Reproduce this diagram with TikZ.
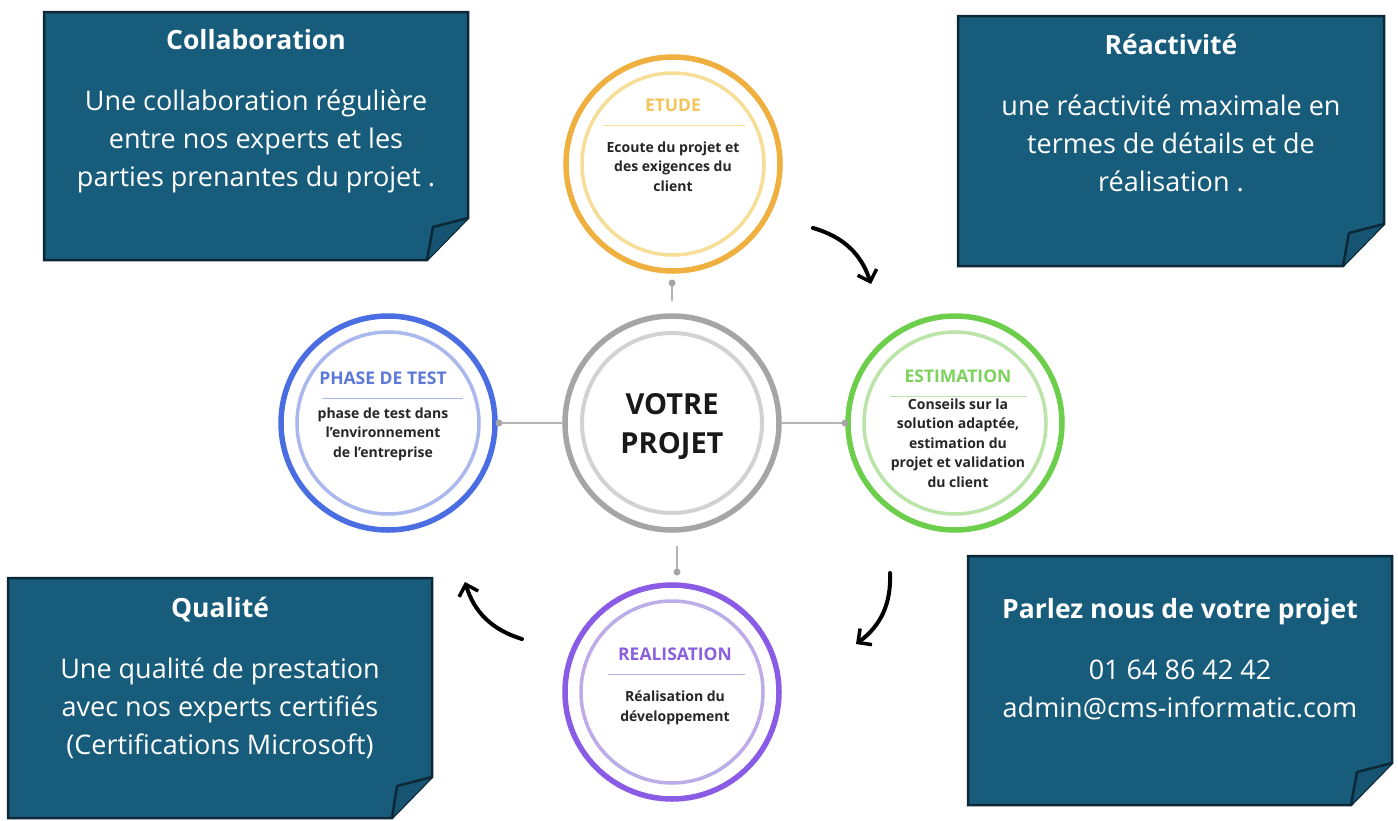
\documentclass[tikz,border=0pt]{standalone}
\usepackage{fontspec}
\setmainfont{Open Sans}
\newfontfamily\osans{Open Sans}
\usetikzlibrary{arrows.meta}
\definecolor{boxfill}{RGB}{24,92,124}
\definecolor{boxflap}{RGB}{22,84,114}
\definecolor{boxline}{RGB}{12,40,54}
\definecolor{etudeA}{RGB}{240,176,64}
\definecolor{etudeB}{RGB}{246,222,150}
\definecolor{etudeT}{RGB}{242,196,90}
\definecolor{estA}{RGB}{108,206,74}
\definecolor{estB}{RGB}{186,228,168}
\definecolor{estT}{RGB}{125,210,95}
\definecolor{testA}{RGB}{74,110,226}
\definecolor{testB}{RGB}{170,184,238}
\definecolor{testT}{RGB}{92,120,216}
\definecolor{realA}{RGB}{138,92,230}
\definecolor{realB}{RGB}{188,172,232}
\definecolor{realT}{RGB}{138,96,224}
\definecolor{midA}{RGB}{165,165,165}
\definecolor{midB}{RGB}{210,210,210}
\definecolor{conn}{RGB}{180,180,180}
\tikzset{
  notebox/.style={draw=boxline, line width=2.5pt, fill=boxfill, line join=miter},
  noteflap/.style={draw=boxline, line width=2.5pt, fill=boxflap, line join=round},
  boxtitle/.style={anchor=base, text=white, inner sep=0pt, font=\fontsize{26.5}{30}\selectfont\bfseries},
  boxbody/.style={anchor=base, text=white, inner sep=0pt, align=center, font=\fontsize{27}{38}\selectfont},
  ring/.style={circle, minimum size=214pt, inner sep=0pt, line width=5.5pt, fill=white},
  ctitle/.style={anchor=base, inner sep=0pt, font=\osans\fontsize{17.5}{20}\selectfont\bfseries},
  cbody/.style={anchor=base, inner sep=0pt, align=center, text=black!85, font=\osans\fontsize{14}{19.5}\selectfont\bfseries},
  connline/.style={draw=conn, line width=2pt},
  cdot/.style={circle, fill=midA, inner sep=0pt, minimum size=7pt},
  flow/.style={line width=4pt, line cap=round, -{Straight Barb[length=10pt,width=20pt,line width=3.5pt]}}
}
\begin{document}
\begin{tikzpicture}[x=1pt,y=-1pt]
\path[use as bounding box, fill=white] (0,0) rectangle (1398,820);

% ---------- note boxes ----------
\draw[notebox] (44,12) -- (468,12) -- (468,218) -- (427,260) -- (44,260) -- cycle;
\draw[noteflap] (468,218) -- (433,227) -- (427,260);
\draw[notebox] (958,16) -- (1384,16) -- (1384,224) -- (1343,266) -- (958,266) -- cycle;
\draw[noteflap] (1384,224) -- (1349,233) -- (1343,266);
\draw[notebox] (8,578) -- (432,578) -- (432,777) -- (392,818) -- (8,818) -- cycle;
\draw[noteflap] (432,777) -- (397,786) -- (392,818);
\draw[notebox] (968,556) -- (1392,556) -- (1392,763) -- (1351,805) -- (968,805) -- cycle;
\draw[noteflap] (1392,763) -- (1357,772) -- (1351,805);

% multi-line nodes: base anchor = baseline of last line
\node[boxtitle] (t1) at (256,49) {Collaboration};
\node[boxbody] (b1) at (256,186) {Une collaboration régulière\\entre nos experts et les\\parties prenantes du projet .};
\node[boxtitle] (t2) at (1171,54) {Réactivité};
\node[boxbody] (b2) at (1171,191) {une réactivité maximale en\\termes de détails et de\\réalisation .};
\node[boxtitle] (t3) at (220,617) {Qualité};
\node[boxbody] (b3) at (220,754) {Une qualité de prestation\\avec nos experts certifiés\\(Certifications Microsoft)};
\node[boxtitle] (t4) at (1180,618) {Parlez nous de votre projet};
\node[boxbody] (b4) at (1180,717) {01 64 86 42 42\\admin@cms-informatic.com};

% ---------- circles ----------
\node[ring, draw=midA] (mid) at (672,423) {};
\draw[midB, line width=4pt] (mid.center) circle[radius=90];
\node[ring, draw=etudeA] (etude) at (673,164) {};
\draw[etudeB, line width=3.5pt] (etude.center) circle[radius=91];
\node[ring, draw=estA] (est) at (955,423) {};
\draw[estB, line width=3.5pt] (est.center) circle[radius=91];
\node[ring, draw=testA] (test) at (388,423) {};
\draw[testB, line width=3.5pt] (test.center) circle[radius=91];
\node[ring, draw=realA] (real) at (672,692) {};
\draw[realB, line width=3.5pt] (real.center) circle[radius=91];

% ---------- connectors ----------
\coordinate (dN) at (672,283);
\coordinate (dE) at (845,423);
\coordinate (dW) at (499,423);
\coordinate (dS) at (677,572);
\draw[connline] (dN) -- ([yshift=12pt]mid.north);
\draw[connline] (mid.east) -- (dE);
\draw[connline] (mid.west) -- (dW);
\draw[connline] (dS) -- ([yshift=-13pt]dS |- mid.south);
\node[cdot] (pN) at (dN) {};
\node[cdot] (pE) at (dE) {};
\node[cdot] (pW) at (dW) {};
\node[cdot] (pS) at (dS) {};

% ---------- circle texts ----------
\node[anchor=base, inner sep=0pt, font=\osans\fontsize{29}{39}\selectfont\bfseries, align=center, text=black!90] (midt) at (672,453) {VOTRE\\PROJET};

\node[ctitle, text=etudeT] (et1) at (673,111) {ETUDE};
\draw[etudeB, line width=1pt] (603,125) -- (745,125);
\node[cbody] (et2) at (673,191) {Ecoute du projet et\\des exigences du\\client};

\node[ctitle, text=estT] (es1) at (958,382) {ESTIMATION};
\draw[estB, line width=1pt] (890,396) -- (1027,396);
\node[cbody] (es2) at (958,487) {Conseils sur la\\solution adaptée,\\estimation du\\projet et validation\\du client};

\node[ctitle, text=testT] (te1) at (383,384) {PHASE DE TEST};
\draw[testB, line width=1pt] (322,398) -- (463,398);
\node[cbody] (te2) at (383,457) {phase de test dans\\l’environnement\\de l’entreprise};

\node[ctitle, text=realT] (re1) at (675,660) {REALISATION};
\draw[realB, line width=1pt] (608,674) -- (745,674);
\node[cbody] (re2) at (675,721) {Réalisation du\\développement};

% ---------- flow arrows ----------
\coordinate (a1s) at (813,228);
\coordinate (a1e) at (871,284);
\coordinate (a2s) at (890,573);
\coordinate (a2e) at (856,644);
\coordinate (a3s) at (522,639);
\coordinate (a3e) at (465,582);
\draw[flow] (a1s) to[bend left=28] (a1e);
\draw[flow] (a2s) to[bend left=28] (a2e);
\draw[flow] (a3s) to[bend left=28] (a3e);
\end{tikzpicture}
\end{document}
